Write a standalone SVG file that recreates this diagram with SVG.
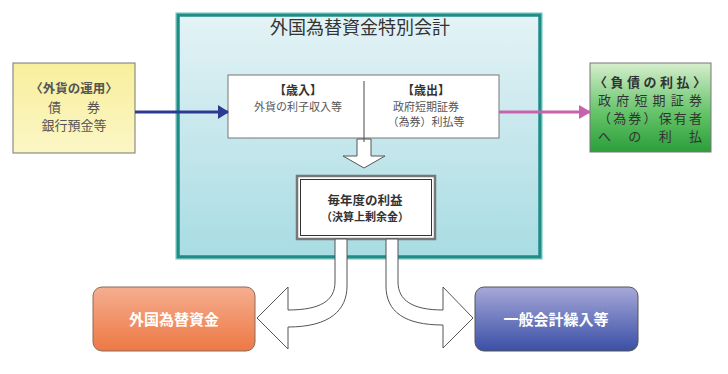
<svg xmlns="http://www.w3.org/2000/svg" width="728" height="374" viewBox="0 0 728 374">
<defs>
<linearGradient id="gMain" x1="0" y1="0" x2="0" y2="1"><stop offset="0" stop-color="#e4f3f6"/><stop offset="1" stop-color="#a8dce3"/></linearGradient>
<linearGradient id="gYellow" x1="0" y1="0" x2="0" y2="1"><stop offset="0" stop-color="#f8ef9c"/><stop offset="1" stop-color="#fbf6c6"/></linearGradient>
<linearGradient id="gGreen" x1="0" y1="0" x2="0" y2="1"><stop offset="0" stop-color="#d6eecd"/><stop offset="0.55" stop-color="#66c46a"/><stop offset="1" stop-color="#2b9e3a"/></linearGradient>
<linearGradient id="gOrange" x1="0" y1="0" x2="0" y2="1"><stop offset="0" stop-color="#f5ae90"/><stop offset="1" stop-color="#ee7844"/></linearGradient>
<linearGradient id="gBlue" x1="0" y1="0" x2="0" y2="1"><stop offset="0" stop-color="#a6a8d8"/><stop offset="1" stop-color="#3a4fa6"/></linearGradient>
<marker id="mBlue" markerWidth="11" markerHeight="14" refX="10" refY="7" orient="auto" markerUnits="userSpaceOnUse"><path d="M0,0 L11,7 L0,14 Z" fill="#2e3a92"/></marker>
<marker id="mPink" markerWidth="12" markerHeight="14" refX="11" refY="7" orient="auto" markerUnits="userSpaceOnUse"><path d="M0,0 L12,7 L0,14 Z" fill="#c962ad"/></marker>
</defs>
<style>
text{font-family:"Noto Sans CJK JP","Noto Sans",sans-serif;text-anchor:middle;}
.dark{fill:#333;}
.gray{fill:#555;}
.white{fill:#fff;font-weight:bold;}
.fat{fill:#fff;stroke:#555;stroke-width:1;}
</style>
<rect width="728" height="374" fill="#fff"/>

<g id="main">
<rect x="178" y="15" width="362" height="242" fill="url(#gMain)" stroke="#1f8d87" stroke-width="3.5"/>
<rect x="176" y="13" width="366" height="246" fill="none" stroke="#6cc0b8" stroke-width="1"/>
<text x="360" y="34" font-size="18" class="dark">外国為替資金特別会計</text>
</g>

<g id="budget">
<rect x="228" y="75" width="271" height="63" fill="#fff" stroke="#777" stroke-width="1"/>
<line x1="364" y1="81" x2="364" y2="142" stroke="#666" stroke-width="1.2"/>
<text x="298" y="95" font-size="12" font-weight="bold" class="dark">【歳入】</text>
<text x="298" y="111" font-size="11" class="gray">外貨の利子収入等</text>
<text x="426" y="95" font-size="12" font-weight="bold" class="dark">【歳出】</text>
<text x="426" y="111" font-size="11" class="gray">政府短期証券</text>
<text x="426" y="126" font-size="11" class="gray">（為券）利払等</text>
</g>

<g id="profit">
<rect x="297" y="176" width="138" height="63" fill="#fff" stroke="#777" stroke-width="2.5"/>
<rect x="300.5" y="179.5" width="131" height="56" fill="none" stroke="#333" stroke-width="1"/>
<text x="365" y="205" font-size="12.5" font-weight="bold" class="dark">毎年度の利益</text>
<text x="365" y="221" font-size="11" font-weight="bold" class="dark">（決算上剰余金）</text>
</g>

<g id="assets">
<rect x="13" y="63" width="122" height="90" fill="url(#gYellow)" stroke="#777" stroke-width="1"/>
<text x="74" y="93" font-size="12.5" font-weight="bold" class="gray">〈外貨の運用〉</text>
<text x="74" y="112" font-size="13" class="gray">債　　券</text>
<text x="74" y="130" font-size="13" class="gray">銀行預金等</text>
</g>

<g id="interest">
<rect x="590" y="63" width="121" height="89" fill="url(#gGreen)" stroke="#777" stroke-width="1"/>
<text x="650" y="87" font-size="13" font-weight="bold" class="dark" textLength="112" lengthAdjust="spacing">〈負債の利払〉</text>
<text x="650" y="105" font-size="13" class="dark" textLength="104" lengthAdjust="spacing">政府短期証券</text>
<text x="650" y="123" font-size="13" class="dark" textLength="104" lengthAdjust="spacing">（為券）保有者</text>
<text x="650" y="141" font-size="13" class="dark" textLength="104" lengthAdjust="spacing">へ　の　利　払</text>
</g>

<g id="reserve">
<rect x="93" y="287" width="162" height="64" rx="9" fill="url(#gOrange)" stroke="#8a6a5a" stroke-width="1"/>
<text x="174" y="325" font-size="15" class="white">外国為替資金</text>
</g>

<g id="general">
<rect x="475" y="287" width="163" height="64" rx="9" fill="url(#gBlue)" stroke="#555" stroke-width="1"/>
<text x="556" y="325" font-size="15" class="white">一般会計繰入等</text>
</g>

<g id="connectors">
<line x1="135" y1="112" x2="228" y2="112" stroke="#2e3a92" stroke-width="3" marker-end="url(#mBlue)"/>
<line x1="499" y1="112" x2="590" y2="112" stroke="#c962ad" stroke-width="3" marker-end="url(#mPink)"/>
<path class="fat" d="M357,139 L371,139 L371,156 L385,156 L364,168 L343,156 L357,156 Z"/>
<line x1="364" y1="139" x2="364" y2="142" stroke="#666" stroke-width="1.2"/>
<path class="fat" d="M335,239 L335,282 C335,301 320,310 288,310 L288,287 L257,318 L288,349 L288,327 C330,327 347,310 347,286 L347,239 Z"/>
<path class="fat" d="M386,239 L386,286 C386,312 405,325 443,325 L443,348 L473,318 L443,287 L443,310 C412,310 398,300 398,282 L398,239 Z"/>
</g>
</svg>
